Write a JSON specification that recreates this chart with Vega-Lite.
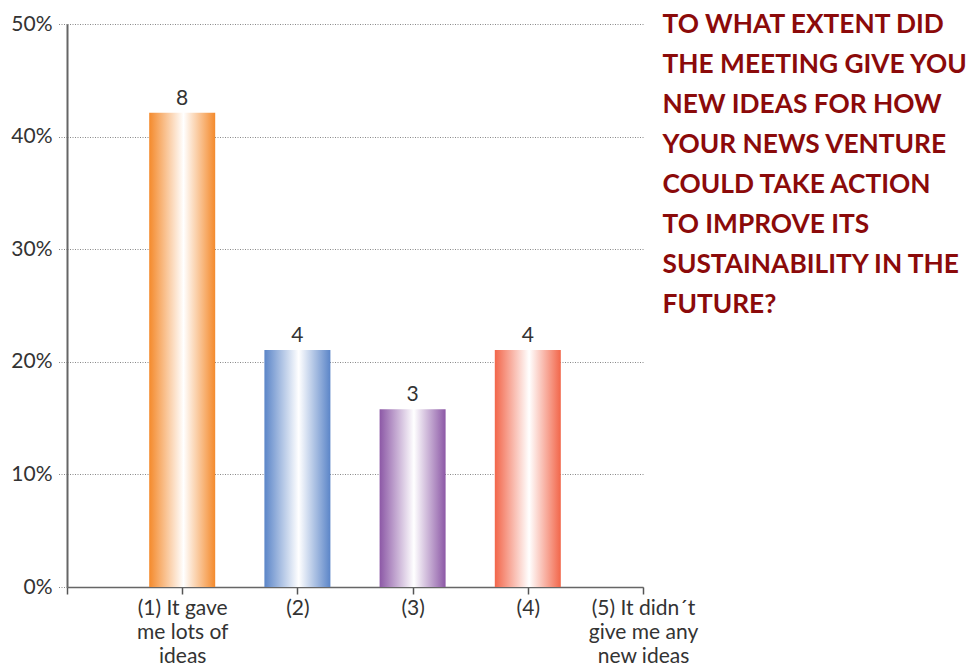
{
  "$schema": "https://vega.github.io/schema/vega-lite/v6.json",
  "width": 580,
  "height": 563,
  "autosize": {"type": "none"},
  "padding": {"left": 67, "top": 24, "right": 330, "bottom": 79},
  "background": "white",
  "config": {"view": {"stroke": null}},
  "data": {
    "values": [
      {"category": "(1) It gave me lots of ideas", "share": 0.4211, "count": 8},
      {"category": "(2)", "share": 0.2105, "count": 4},
      {"category": "(3)", "share": 0.1579, "count": 3},
      {"category": "(4)", "share": 0.2105, "count": 4}
    ]
  },
  "encoding": {
    "x": {
      "field": "category",
      "type": "ordinal",
      "sort": null,
      "scale": {
        "type": "point",
        "padding": 0,
        "domain": ["", "(1) It gave me lots of ideas", "(2)", "(3)", "(4)", "(5) It didn´t give me any new ideas"],
        "range": [0, 576]
      },
      "axis": {
        "title": null,
        "labelAngle": 0,
        "labelFont": "Lato",
        "labelFontSize": 21,
        "labelColor": "#333333",
        "labelLineHeight": 24,
        "labelPadding": 3,
        "labelBaseline": "top",
        "labelExpr": "datum.value == '(1) It gave me lots of ideas' ? ['(1) It gave', 'me lots of', 'ideas'] : datum.value == '(5) It didn´t give me any new ideas' ? ['(5) It didn´t', 'give me any', 'new ideas'] : datum.value",
        "domainColor": "#666666",
        "domainWidth": 1.5,
        "tickColor": "#555555",
        "tickWidth": 1.5,
        "tickSize": 7,
        "labelOverlap": false,
        "labelBound": false,
        "labelFlush": false
      }
    },
    "y": {
      "field": "share",
      "type": "quantitative",
      "scale": {"domain": [0, 0.5], "nice": false},
      "axis": {
        "title": ["TO WHAT EXTENT DID", "THE MEETING GIVE YOU", "NEW IDEAS FOR HOW", "YOUR NEWS VENTURE", "COULD TAKE  ACTION", "TO IMPROVE ITS", "SUSTAINABILITY IN THE", "FUTURE?"],
        "titleX": 595,
        "titleY": -13,
        "titleAngle": 0,
        "titleAlign": "left",
        "titleBaseline": "top",
        "titleLineHeight": 40,
        "titleFont": "Lato",
        "titleFontSize": 26.3,
        "titleFontWeight": "bold",
        "titleColor": "#8B0A0A",
        "format": ".0%",
        "values": [0, 0.1, 0.2, 0.3, 0.4, 0.5],
        "labelFont": "Lato",
        "labelFontSize": 21,
        "labelColor": "#333333",
        "labelPadding": 5,
        "tickSize": 10,
        "tickColor": "#888888",
        "tickDash": [1, 1.5],
        "domainColor": "#666666",
        "domainWidth": 2,
        "grid": true,
        "gridColor": "#888888",
        "gridDash": [1, 1.5],
        "gridWidth": 1
      }
    }
  },
  "layer": [
    {
      "transform": [{"filter": "datum.category == '(1) It gave me lots of ideas'"}],
      "mark": {"type": "bar", "size": 66, "color": {"gradient": "linear", "x1": 0, "x2": 1, "y1": 0, "y2": 0, "stops": [{"offset": 0, "color": "#F48A2C"}, {"offset": 0.52, "color": "#FFFFFF"}, {"offset": 1, "color": "#F48A2C"}]}}
    },
    {
      "transform": [{"filter": "datum.category == '(2)'"}],
      "mark": {"type": "bar", "size": 66, "color": {"gradient": "linear", "x1": 0, "x2": 1, "y1": 0, "y2": 0, "stops": [{"offset": 0, "color": "#5B85C8"}, {"offset": 0.52, "color": "#FFFFFF"}, {"offset": 1, "color": "#5B85C8"}]}}
    },
    {
      "transform": [{"filter": "datum.category == '(3)'"}],
      "mark": {"type": "bar", "size": 66, "color": {"gradient": "linear", "x1": 0, "x2": 1, "y1": 0, "y2": 0, "stops": [{"offset": 0, "color": "#8C58A6"}, {"offset": 0.52, "color": "#FFFFFF"}, {"offset": 1, "color": "#8C58A6"}]}}
    },
    {
      "transform": [{"filter": "datum.category == '(4)'"}],
      "mark": {"type": "bar", "size": 66, "color": {"gradient": "linear", "x1": 0, "x2": 1, "y1": 0, "y2": 0, "stops": [{"offset": 0, "color": "#F2664A"}, {"offset": 0.52, "color": "#FFFFFF"}, {"offset": 1, "color": "#F2664A"}]}}
    },
    {
      "mark": {"type": "text", "baseline": "bottom", "dy": -4, "font": "Lato", "fontSize": 21, "color": "#333333"},
      "encoding": {"text": {"field": "count", "type": "quantitative"}}
    }
  ]
}
